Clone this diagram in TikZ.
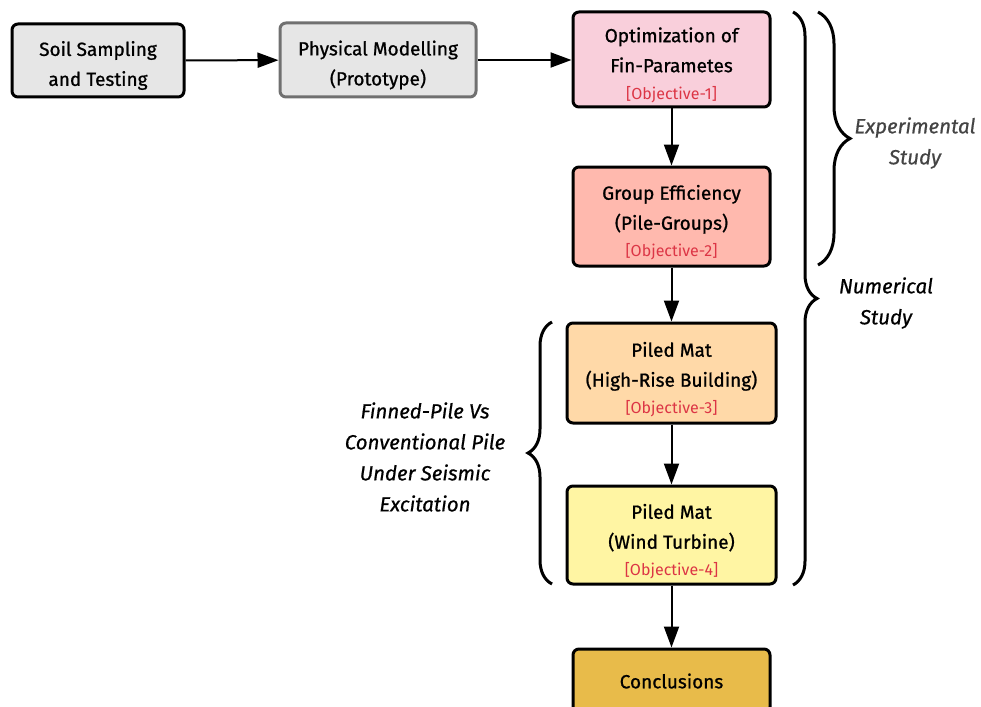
\documentclass[tikz,border=0pt]{standalone}
\usepackage{fontspec}
\setmainfont{Fira Sans}
\newfontfamily\boxfont{Fira Sans}[FakeBold=0.9]
\newfontfamily\objfont{Fira Sans}
\newfontfamily\labelfont{Fira Sans Italic}[FakeBold=0.7]
\usetikzlibrary{arrows.meta,decorations.pathreplacing}
\definecolor{boxgray}{HTML}{E6E6E6}
\definecolor{edgegray}{HTML}{707070}
\definecolor{pinkfill}{HTML}{F9CFDB}
\definecolor{salmonfill}{HTML}{FFB9AE}
\definecolor{peachfill}{HTML}{FFD9A8}
\definecolor{yellowfill}{HTML}{FFF5A3}
\definecolor{goldfill}{HTML}{E8BB4A}
\definecolor{objred}{HTML}{DC3545}
\definecolor{labelgray}{HTML}{444444}
\newcommand{\objtxt}[1]{{\objfont\fontsize{16}{18}\selectfont\color{objred}#1}}
\tikzset{
  stepbox/.style={draw=black, line width=3pt, rounded corners=6pt, inner sep=0pt},
  steptext/.style={align=center, font=\boxfont\fontsize{19}{30}\selectfont, inner sep=0pt},
  flowarrow/.style={line width=2pt, -{Triangle[length=21pt,width=15pt]}},
  bracestyle/.style={line width=3pt, decorate},
  sidelabel/.style={align=center, font=\labelfont\fontsize{20.5}{31}\selectfont}
}
\begin{document}
\begin{tikzpicture}[x=1pt,y=-1pt]
\useasboundingbox (0,0) rectangle (981,706);
\clip (0,0) rectangle (981,706);
\node[stepbox, fill=boxgray, minimum width=172pt, minimum height=73pt] (soil) at (98,60.5) {};
\node[steptext] (soiltext) at (98,65.5) {Soil Sampling\\and Testing};
\node[stepbox, draw=edgegray, fill=boxgray, minimum width=196pt, minimum height=74pt] (phys) at (378,60) {};
\node[steptext] (phystext) at (378,65) {Physical Modelling\\(Prototype)};
\node[stepbox, fill=pinkfill, minimum width=197pt, minimum height=95pt] (opt) at (671.5,59.5) {};
\node[steptext] (opttext) at (671.5,65) {Optimization of\\Fin-Parametes\\[-3pt]\objtxt{[Objective-1]}};
\node[stepbox, fill=salmonfill, minimum width=197pt, minimum height=99pt] (group) at (671.5,216.5) {};
\node[steptext] (grouptext) at (671.5,222.5) {Group Efficiency\\(Pile-Groups)\\[-3pt]\objtxt{[Objective-2]}};
\node[stepbox, fill=peachfill, minimum width=209pt, minimum height=100pt] (high) at (671.5,373) {};
\node[steptext] (hightext) at (671.5,379.5) {Piled Mat\\(High-Rise Building)\\[-3pt]\objtxt{[Objective-3]}};
\node[stepbox, fill=yellowfill, minimum width=209pt, minimum height=98pt] (wind) at (671.5,535) {};
\node[steptext] (windtext) at (671.5,541.5) {Piled Mat\\(Wind Turbine)\\[-3pt]\objtxt{[Objective-4]}};
\node[stepbox, fill=goldfill, minimum width=197pt, minimum height=64pt] (concl) at (671.5,681) {};
\node[steptext] (concltext) at (671.5,681) {Conclusions};

\draw[flowarrow] (soil) -- (phys);
\draw[flowarrow] (phys) -- (phys -| opt.west);
\draw[flowarrow] (opt) -- (group);
\draw[flowarrow] (group) -- (group.south |- high.north);
\draw[flowarrow] (high.south -| group.south) -- (wind.north -| group.south);
\draw[flowarrow] (wind.south -| group.south) -- (concl);

\coordinate (expA) at (818,12);
\coordinate (expB) at (818,265);
\coordinate (numA) at (793,12);
\coordinate (numB) at (793,585);
\coordinate (finA) at (552,584);
\coordinate (finB) at (552,322);
\draw[bracestyle, decoration={brace, amplitude=32pt}] (expA) -- (expB);
\draw[bracestyle, decoration={brace, amplitude=24pt}] (numA) -- (numB);
\draw[bracestyle, decoration={brace, amplitude=24pt}] (finA) -- (finB);

\node[sidelabel, text=labelgray] (explabel) at (915,143) {Experimental\\Study};
\node[sidelabel] (numlabel) at (886,303) {Numerical\\Study};
\node[sidelabel] (finlabel) at (425,457) {Finned-Pile Vs\\Conventional Pile\\Under Seismic\\Excitation};
\end{tikzpicture}
\end{document}
